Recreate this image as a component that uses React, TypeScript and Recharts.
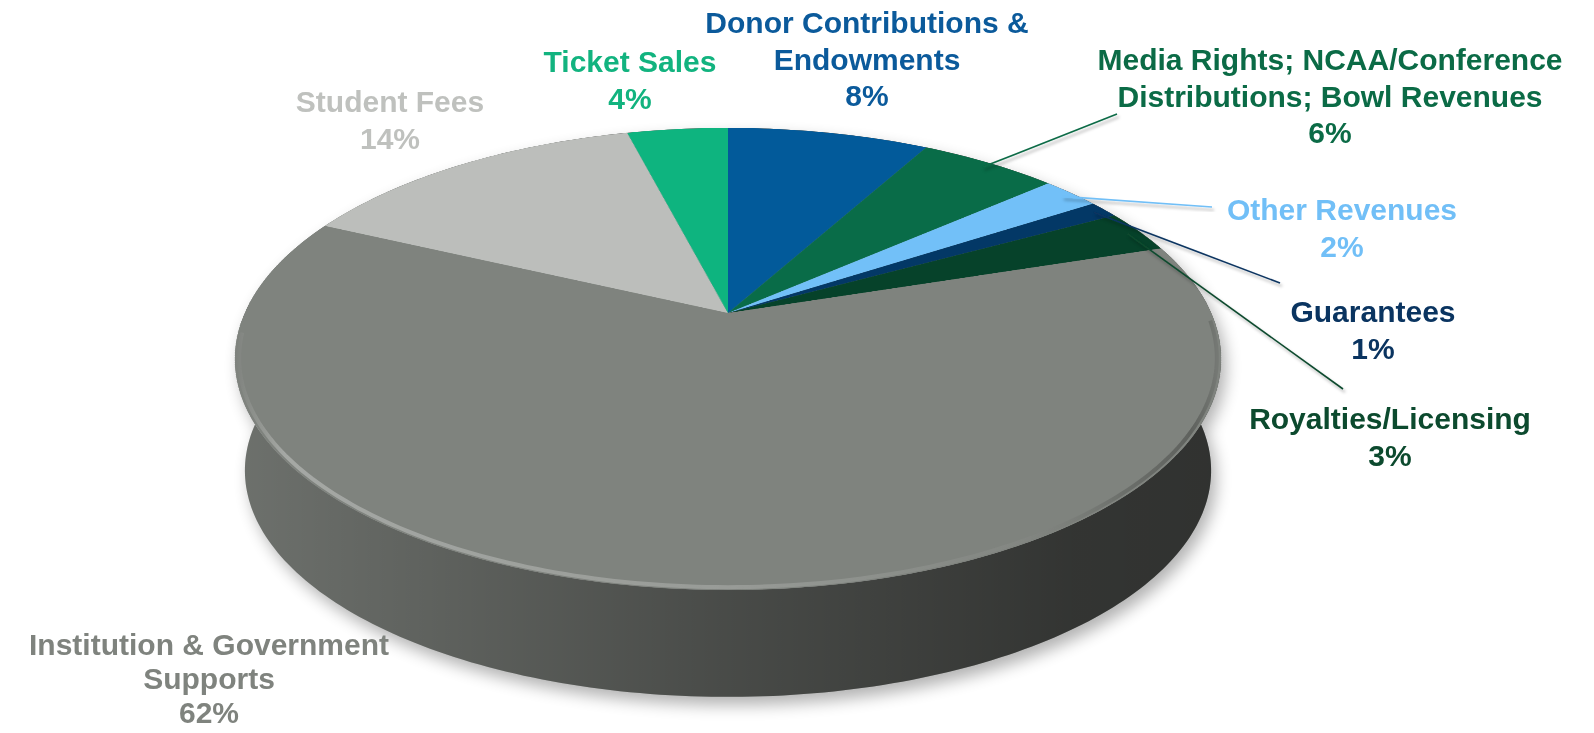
import React from 'react';
import { PieChart, Pie, Cell } from 'recharts';

// slices clockwise from 12 o'clock
const categories = [
  'Donor Contributions &\nEndowments',
  'Media Rights; NCAA/Conference\nDistributions; Bowl Revenues',
  'Other Revenues',
  'Guarantees',
  'Royalties/Licensing',
  'Institution & Government\nSupports',
  'Student Fees',
  'Ticket Sales',
];
const shares = [8.0, 5.5, 2.3, 1.2, 3.0, 62.0, 14.0, 4.0];
const sliceColors = ['#025A9A', '#096C48', '#72C0F8', '#033866', '#06422A', '#7F837E', '#BCBEBB', '#0EB47F'];
const labelColors = ['#0B5A9B', '#0B6B46', '#71BFF7', '#0A3460', '#0C4A2E', '#7F837E', '#BFC1BE', '#12B37F'];

// label layout: centre x, first baseline, line gap, outer end of leader line
const labelLayout: { x: number; y: number; gap?: number; line?: [number, number] }[] = [
  { x: 867, y: 33 },
  { x: 1330, y: 70, line: [1117, 114] },
  { x: 1342, y: 220, line: [1212, 207] },
  { x: 1373, y: 322, line: [1280, 283] },
  { x: 1390, y: 429, line: [1343, 389] },
  { x: 209, y: 655, gap: 34 },
  { x: 390, y: 112 },
  { x: 630, y: 72 },
];

const data = categories.map((name, i) => ({ name, value: shares[i] }));

const W = 1594;
const H = 733;
// projected disc: pie centre, half axes, perspective tilt, thickness
const CX = 728;
const CY = 313;
const RX = 483.1;
const RY = 221.8;
const TILT = 0.199;
const DEPTH = 112.5;
const BOTTOM_SCALE = 0.98;
const R = 500; // radius of the flat pie before projection
const FONT = '"Liberation Sans", Arial, Helvetica, sans-serif';
const LINE_H = 36.5;

const project = (deg: number, r: number, bottom = false): [number, number] => {
  const a = (deg * Math.PI) / 180;
  const u = r * Math.cos(a);
  const v = r * Math.sin(a);
  const w = 1 + TILT * v;
  const s = bottom ? BOTTOM_SCALE : 1;
  const x = CX + (s * RX * u) / w;
  const y = CY + (bottom ? DEPTH : 0) - (s * RY * v) / w;
  return [x, y];
};

const arcPoints = (a1: number, a2: number, r: number, bottom: boolean) => {
  const n = Math.max(4, Math.ceil(Math.abs(a2 - a1)));
  const pts: [number, number][] = [];
  for (let k = 0; k <= n; k++) pts.push(project(a1 + ((a2 - a1) * k) / n, r, bottom));
  return pts;
};

const toPath = (pts: [number, number][], close = true) =>
  pts.map((p, k) => `${k ? 'L' : 'M'}${p[0].toFixed(2)},${p[1].toFixed(2)}`).join(' ') + (close ? ' Z' : '');

// slice angles in recharts convention (degrees ccw from east)
const total = shares.reduce((s, v) => s + v, 0);
const sliceAngles = shares.map((v, i) => {
  const before = shares.slice(0, i).reduce((s, x) => s + x, 0);
  return [90 - (360 * before) / total, 90 - (360 * (before + v)) / total];
});

const sidePaths = sliceAngles.map(([a1, a2]) =>
  toPath([...arcPoints(a1, a2, 1, false), ...arcPoints(a2, a1, 1, true)])
);
const topOutline = toPath(arcPoints(0, 360, 1, false));
const bottomOutline = toPath(arcPoints(0, 360, 1, true));
const rimPath = toPath(arcPoints(185, 358, 0.992, false), false);
const HALF_W = RX / Math.sqrt(1 - TILT * TILT);

// maps the flat pie (radius R, centre R,R) onto the tilted disc
const matrix = [
  RX / R, 0, 0, 0,
  (-CX * TILT) / R, (RY - CY * TILT) / R, 0, -TILT / R,
  0, 0, 1, 0,
  CX * (1 + TILT) - RX, CY * (1 + TILT) - RY, 0, 1 + TILT,
];

const renderLabel = (props: any) => {
  const { index, midAngle, value } = props;
  const lay = labelLayout[index];
  const lines = categories[index].split('\n');
  lines.push(`${Math.round(value)}%`);
  const anchor = project(midAngle, 0.97);
  return (
    <g>
      {lay.line && (
        <line
          x1={anchor[0]}
          y1={anchor[1]}
          x2={lay.line[0]}
          y2={lay.line[1]}
          stroke={labelColors[index]}
          strokeWidth={1.6}
          filter="url(#lineShadow)"
        />
      )}
      <text
        x={lay.x}
        y={lay.y}
        textAnchor="middle"
        fill={labelColors[index]}
        fontSize={30}
        fontWeight={700}
        fontFamily={FONT}
      >
        {lines.map((l, k) => (
          <tspan key={k} x={lay.x} dy={k === 0 ? 0 : lay.gap ?? LINE_H}>
            {l}
          </tspan>
        ))}
      </text>
    </g>
  );
};

export default function App() {
  return (
    <div style={{ position: 'absolute', left: 0, top: 0, width: W, height: H, overflow: 'hidden', background: '#fff' }}>
      {/* shadow and side wall */}
      <svg width={W} height={H} style={{ position: 'absolute', left: 0, top: 0 }}>
        <defs>
          <filter id="pieShadow" x="-10%" y="-20%" width="120%" height="140%">
            <feGaussianBlur stdDeviation="8" />
          </filter>
          <filter id="lineShadow" x="-20%" y="-20%" width="140%" height="160%">
            <feDropShadow dx="2" dy="3" stdDeviation="1.5" floodColor="#000" floodOpacity="0.3" />
          </filter>
          <linearGradient id="sideShade" gradientUnits="userSpaceOnUse" x1={CX - HALF_W} y1="0" x2={CX + HALF_W} y2="0">
            <stop offset="0" stopColor="#000" stopOpacity="0.14" />
            <stop offset="0.5" stopColor="#000" stopOpacity="0.43" />
            <stop offset="0.85" stopColor="#000" stopOpacity="0.6" />
            <stop offset="1" stopColor="#000" stopOpacity="0.62" />
          </linearGradient>
          <linearGradient id="rimShade" gradientUnits="userSpaceOnUse" x1={CX - HALF_W} y1="0" x2={CX + HALF_W} y2="0">
            <stop offset="0" stopColor="#fff" stopOpacity="0" />
            <stop offset="0.05" stopColor="#fff" stopOpacity="0.3" />
            <stop offset="0.5" stopColor="#fff" stopOpacity="0.2" />
            <stop offset="0.75" stopColor="#fff" stopOpacity="0.05" />
            <stop offset="0.9" stopColor="#000" stopOpacity="0.15" />
            <stop offset="0.97" stopColor="#000" stopOpacity="0.25" />
            <stop offset="1" stopColor="#000" stopOpacity="0.05" />
          </linearGradient>
        </defs>
        <g transform="translate(5 8)" filter="url(#pieShadow)" opacity={0.3}>
          <path d={bottomOutline} fill="#000" />
          {sidePaths.map((d, i) => (
            <path key={i} d={d} fill="#000" />
          ))}
        </g>
        {sidePaths.map((d, i) => (
          <path key={`s${i}`} d={d} fill={sliceColors[i]} />
        ))}
        {sidePaths.map((d, i) => (
          <path key={`g${i}`} d={d} fill="url(#sideShade)" />
        ))}
        <path d={topOutline} fill={sliceColors[5]} />
      </svg>

      {/* top face, drawn flat and projected */}
      <div
        style={{
          position: 'absolute',
          left: 0,
          top: 0,
          width: 2 * R,
          height: 2 * R,
          transformOrigin: '0 0',
          transform: `matrix3d(${matrix.join(',')})`,
        }}
      >
        <PieChart width={2 * R} height={2 * R} margin={{ top: 0, right: 0, bottom: 0, left: 0 }}>
          <Pie
            data={data}
            dataKey="value"
            nameKey="name"
            cx={R}
            cy={R}
            outerRadius={R}
            startAngle={90}
            endAngle={-270}
            stroke="none"
            isAnimationActive={false}
          >
            {data.map((_d, i) => (
              <Cell key={i} fill={sliceColors[i]} stroke="none" />
            ))}
          </Pie>
        </PieChart>
      </div>

      {/* bevel on the front rim */}
      <svg width={W} height={H} style={{ position: 'absolute', left: 0, top: 0 }}>
        <path d={rimPath} fill="none" stroke="url(#rimShade)" strokeWidth={4} />
      </svg>

      {/* labels and leader lines */}
      <div style={{ position: 'absolute', left: 0, top: 0 }}>
        <PieChart width={W} height={H} margin={{ top: 0, right: 0, bottom: 0, left: 0 }}>
          <Pie
            data={data}
            dataKey="value"
            nameKey="name"
            cx={CX}
            cy={CY}
            outerRadius={100}
            startAngle={90}
            endAngle={-270}
            fill="none"
            stroke="none"
            label={renderLabel}
            labelLine={false}
            isAnimationActive={false}
          />
        </PieChart>
      </div>
    </div>
  );
}
